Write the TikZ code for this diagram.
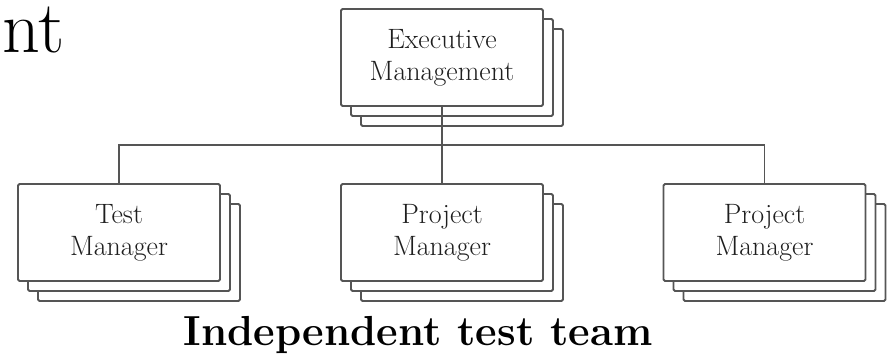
\documentclass[tikz,border=0pt]{standalone}
\usetikzlibrary{shadows}
\definecolor{linegray}{RGB}{85,85,85}
\definecolor{textgray}{RGB}{30,30,30}
\tikzset{
  box/.style={draw=linegray, line width=1.8pt, fill=white, rounded corners=1.5pt,
    minimum width=202pt, minimum height=97pt, align=center, inner sep=0pt,
    font=\fontsize{28}{32}\selectfont, text=textgray,
    copy shadow={shadow xshift=20pt, shadow yshift=-20pt, draw=linegray, line width=1.8pt, fill=white},
    copy shadow={shadow xshift=10pt, shadow yshift=-10pt, draw=linegray, line width=1.8pt, fill=white}},
  conn/.style={draw=linegray, line width=1.8pt}
}
\begin{document}
\begin{tikzpicture}[x=1pt,y=-1pt]
\useasboundingbox (0,0) rectangle (887,360);
\node[anchor=base west, inner sep=0pt, font=\fontsize{74}{80}\selectfont] (frag) at (2,52) {nt};
\node[box] (top) at (442,57.5) {Executive\\Management};
\node[box] (tm) at (119,232.5) {Test\\Manager};
\node[box] (pm1) at (442,232.5) {Project\\Manager};
\node[box] (pm2) at (764.5,232.5) {Project\\Manager};
\coordinate (bus) at (442,145);
\draw[conn] (tm.north) |- (bus) -| (pm2.north);
\draw[conn] (top.south) -- (pm1.north);
\node[anchor=base, inner sep=0pt, font=\bfseries\fontsize{42}{46}\selectfont] (title) at (418,345) {Independent test team};
\end{tikzpicture}
\end{document}
